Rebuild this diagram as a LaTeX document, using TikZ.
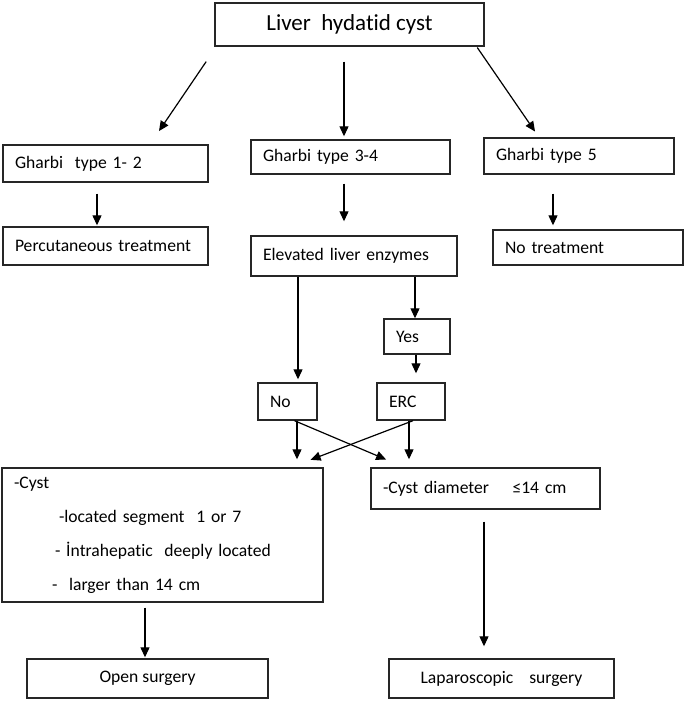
\documentclass[tikz,border=0pt]{standalone}
\usepackage{fontspec}
\setmainfont{Carlito}[Ligatures=NoCommon]
\usetikzlibrary{arrows.meta}

\tikzset{
  box/.style={draw=black!85, line width=1.4pt, inner xsep=12pt, inner ysep=0pt, align=left, font=\fontsize{17.6}{21}\selectfont},
  cbox/.style={box, align=center},
  arr/.style={line width=1.2pt, -{Triangle[length=10pt,width=9pt]}},
}

\begin{document}
\begin{tikzpicture}[x=1pt,y=-1pt]

\useasboundingbox (0,0) rectangle (685,701);

\node[cbox, minimum width=269pt, minimum height=43pt, font=\fontsize{23}{27}\selectfont] (cyst) at (349.5,24.5) {Liver~ hydatid cyst};

\node[box, text width=181pt, minimum height=37pt] (g12) at (105.5,163.5) {Gharbi~ type 1- 2};
\node[box, text width=175pt, minimum height=34pt] (g34) at (350.5,157) {Gharbi type 3-4};
\node[box, text width=166pt, minimum height=36pt] (g5) at (579,156) {Gharbi type 5};

\node[box, text width=181pt, minimum height=38pt] (perc) at (105.5,246) {Percutaneous treatment};
\node[box, text width=182pt, minimum height=40pt] (elev) at (354,256) {Elevated liver enzymes};
\node[box, text width=166pt, minimum height=35pt] (notr) at (588,247.5) {No treatment};

\node[box, text width=42pt, minimum height=35pt] (yes) at (417,336.5) {Yes};
\node[box, text width=35pt, minimum height=37pt] (no) at (287.5,401.5) {No};
\node[box, text width=44pt, minimum height=37pt] (erc) at (411,401.5) {ERC};

\node[box, text width=297pt, minimum height=134pt, font=\fontsize{17.6}{34}\selectfont] (crit) at (162.5,535)
  {-Cyst\\ \hspace*{45pt}-located segment~ 1 or 7\\ \hspace*{41pt}- İntrahepatic~ deeply located\\ \hspace*{38pt}-~ larger than 14 cm};
\node[box, text width=205pt, minimum height=41pt] (diam) at (485.5,488.5) {-Cyst diameter~~~ ≤14 cm};

\node[cbox, minimum width=241pt, minimum height=39pt] (open) at (147.5,678.5) {Open surgery};
\node[cbox, minimum width=225pt, minimum height=39pt] (lap) at (501.5,678.5) {Laparoscopic~~~ surgery};

\draw[arr, shorten <=18pt, shorten >=16pt] ([xshift=2pt]cyst.south west) -- ([xshift=44.5pt]g12.north);
\draw[arr, shorten <=15pt, shorten >=3pt] ([xshift=-5.5pt]cyst.south) -- ([xshift=-6.5pt]g34.north);
\draw[arr, shorten <=1pt, shorten >=7pt] ([xshift=-8pt]cyst.south east) -- ([xshift=-40pt]g5.north);

\draw[arr, shorten <=11pt, shorten >=1pt] ([xshift=-8.5pt]g12.south) -- ([xshift=-8.5pt]perc.north);
\draw[arr, shorten <=9pt, shorten >=14pt] ([xshift=-6.5pt]g34.south) -- ([xshift=-10pt]elev.north);
\draw[arr, shorten <=19pt, shorten >=4pt] ([xshift=-26pt]g5.south) -- ([xshift=-35pt]notr.north);

\draw[arr, shorten >=3pt] ([xshift=-56pt]elev.south) -- ([xshift=10.5pt]no.north);
\draw[arr] ([xshift=61pt]elev.south) -- ([xshift=-2pt]yes.north);
\draw[arr, shorten >=9pt] ([xshift=-1pt]yes.south) -- ([xshift=5pt]erc.north);

\draw[arr, shorten >=8pt] ([xshift=9.5pt]no.south) -- ([xshift=134.5pt]crit.north);
\draw[arr, shorten >=20pt] ([xshift=7pt]no.south) -- ([xshift=-81pt]diam.north);
\draw[arr, shorten >=21pt] ([xshift=2pt]erc.south) -- ([xshift=128.5pt]crit.north);
\draw[arr, shorten >=8pt] ([xshift=-2pt]erc.south) -- ([xshift=-76.5pt]diam.north);

\draw[arr, shorten <=5pt, shorten >=1pt] ([xshift=-17.5pt]crit.south) -- ([xshift=-2.5pt]open.north);
\draw[arr, shorten <=12pt, shorten >=12pt] ([xshift=-1.5pt]diam.south) -- ([xshift=-17.5pt]lap.north);

\end{tikzpicture}
\end{document}
